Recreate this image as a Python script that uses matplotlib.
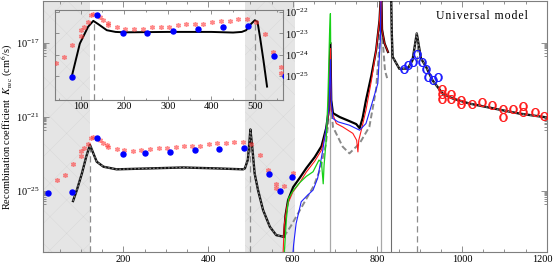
import numpy as np
import matplotlib
matplotlib.use('Agg')
import matplotlib.pyplot as plt
from matplotlib.ticker import MultipleLocator, NullFormatter, FixedLocator
from matplotlib.transforms import ScaledTranslation

plt.rcParams['font.family'] = ['Liberation Serif', 'DejaVu Serif']
plt.rcParams['mathtext.fontset'] = 'stix'
plt.rcParams['hatch.linewidth'] = 0.3

# ---- data (x in nm-like units, values stored as log10 K_rec) ----
# shaded bands
shade = [(10, 120), (487, 605)]

# model curve below 580 (black under grey dashes)
low_x = [81, 90, 102, 112, 121, 129, 137, 153, 184, 263, 341, 420, 483, 487, 494, 498,
         500, 505, 510, 518, 530, 546, 561, 579]
low_lg = [-25.53, -24.94, -24.04, -23.15, -22.5, -22.96, -23.41, -23.68, -23.82, -23.77,
          -23.72, -23.77, -23.82, -23.77, -23.3, -22.25, -21.67, -22.78, -24.04, -24.94,
          -26.02, -26.92, -27.37, -27.46]

# black branch above 579
blk_x = [579, 583, 589, 601, 616, 632, 652, 668, 679, 685, 689, 691, 695, 711, 734, 750,
         758, 765, 773, 786, 797, 805, 808]
blk_lg = [-27.46, -26.29, -25.48, -24.78, -24.30, -23.76, -23.16, -22.57, -21.6, -20.63,
          -17.0, -20.09, -20.79, -21.0, -21.22, -21.38, -21.6, -21.06, -20.09, -18.74,
          -17.39, -15.78, -14.5]
blk2_x = [809.5, 811, 817, 825]
blk2_lg = [-14.5, -16.3, -17.03, -17.49]

# red branch
red_x = [577, 580, 587, 600, 616, 632, 652, 668, 679, 685, 689, 691, 703, 718, 742, 751,
         754, 756, 762, 773, 786, 797, 805, 808]
red_lg = [-28.5, -26.8, -25.75, -25.05, -24.56, -23.97, -23.38, -22.78, -21.7, -20.74,
          -17.3, -20.63, -21.35, -21.53, -21.88, -22.25, -22.88, -22.25, -21.71, -20.63,
          -19.01, -17.39, -15.78, -14.5]

# blue branch
blu_x = [600, 602, 608, 620, 633, 648, 659, 671, 680, 686, 689, 691, 695, 707, 734, 758,
         773, 786, 801, 807, 808.5]
blu_lg = [-28.5, -27.9, -26.74, -25.57, -25.26, -24.94, -24.29, -22.78, -21.43, -20.36,
          -17.9, -20.09, -21.08, -21.26, -21.44, -21.71, -21.35, -20.36, -19.19, -16.85, -14.5]

# green branch
grn_x = [580, 585, 590, 600, 616, 632, 648, 662, 668, 672, 674, 679, 683, 687, 689, 689.6]
grn_lg = [-28.4, -26.5, -25.4, -25.0, -24.55, -24.2, -23.95, -23.32, -23.45, -24.6, -23.6,
          -22.25, -20.09, -16.49, -15.42, -17.03]

# grey dashed branch
gry_x = [579, 595, 610, 630, 650, 665, 678, 684, 688, 691, 695, 718, 734, 758, 781, 797,
         805, 808]
gry_lg = [-27.46, -26.9, -26.3, -25.5, -24.7, -23.8, -22.5, -21.3, -18.5, -20.5, -21.53,
          -22.6, -22.96, -22.42, -21.53, -19.5, -17.03, -15.0]
gry2_x = [810, 814, 818, 823]
gry2_lg = [-15.8, -17.3, -18.5, -18.9]

# model curve above 832
hi_x = [832.5, 834, 836, 852, 872, 883, 893, 903, 915, 930, 954, 978, 1017, 1056, 1095,
        1135, 1200]
hi_lg = [-14.5, -16.5, -17.75, -18.4, -18.38, -17.93, -16.49, -17.84, -18.29, -19.01,
         -19.73, -20.0, -20.27, -20.45, -20.63, -20.81, -21.02]

# inset model curve
ins_x = [79, 98, 117, 129, 140, 160, 180, 200, 300, 400, 450, 470, 480, 489, 500, 506,
         512, 520, 528]
ins_lg = [-25.07, -23.48, -22.69, -22.41, -22.56, -22.85, -22.93, -22.95, -22.93, -22.93,
          -22.96, -22.93, -22.85, -22.6, -22.38, -22.45, -23.2, -24.3, -25.5]

# measured points
star_x = [43, 62, 81, 100, 100, 108, 116, 123, 129, 144, 152, 162, 163, 184, 202, 223, 242,
          263, 284, 303, 324, 343, 362, 381, 402, 422, 443, 462, 482, 502, 523, 542, 561,
          561, 580, 600]
star_lg = [-24.38, -24.1, -23.55, -22.85, -23.1, -22.69, -22.45, -22.14, -22.09, -22.25,
           -22.38, -22.5, -22.61, -22.72, -22.77, -22.81, -22.77, -22.72, -22.69, -22.69,
           -22.61, -22.58, -22.55, -22.58, -22.45, -22.41, -22.41, -22.34, -22.33, -22.45,
           -23.03, -23.86, -24.6, -24.85, -24.72, -24.0]

dot_x = [22, 79, 137, 198, 252, 311, 369, 427, 485, 544, 569, 598]
dot_lg = [-25.12, -25.03, -22.13, -22.98, -22.96, -22.9, -22.77, -22.7, -22.67, -24.05,
          -25.0, -24.22]

bcirc_x = [864, 873, 883, 894, 906, 916, 920, 932, 942]
bcirc_lg = [-18.42, -18.2, -18.04, -17.59, -18.04, -18.42, -18.85, -19.01, -18.85]

rcirc_x = [953, 953, 953, 974, 974, 997, 997, 1023, 1047, 1070, 1097, 1097, 1121, 1145,
           1145, 1172, 1194]
rcirc_lg = [-19.46, -19.78, -20.03, -19.73, -20.0, -20.09, -20.27, -20.27, -20.18, -20.36,
            -20.54, -20.99, -20.54, -20.41, -20.72, -20.72, -20.95]


def K(v):
    return 10.0 ** np.asarray(v)


ybot, ytop = 10 ** -28.28, 10 ** -14.72
spine_c = '#7f7f7f'

fig = plt.figure(figsize=(5.56, 2.66), dpi=100)
ax = fig.add_axes([0.0773, 0.0526, 0.906, 0.945])
ax.set_yscale('log')
ax.set_xlim(10, 1200)
ax.set_ylim(ybot, ytop)

for a, b in shade:
    ax.axvspan(a, b, facecolor='#e5e5e5', edgecolor='#d6d6d6', hatch='x', lw=0, zorder=0)

# reference lines
ax.vlines([120], ybot, K(-22.5), colors='#8c8c8c', lw=0.9, linestyles=(0, (5, 3)), zorder=1)
ax.vlines([499], ybot, K(-21.67), colors='#8c8c8c', lw=0.9, linestyles=(0, (5, 3)), zorder=1)
ax.vlines([893], ybot, K(-16.49), colors='#8c8c8c', lw=0.9, linestyles=(0, (5, 3)), zorder=1)
ax.vlines([688], ybot, K(-20.0), colors='#a8a8a8', lw=0.9, zorder=1)
ax.vlines([809], ybot, ytop, colors='#a8a8a8', lw=0.9, zorder=1)
ax.vlines([832], ybot, ytop, colors='#6e6e6e', lw=0.8, zorder=1)

# curves
dash = (0, (1.5, 1.5))
ax.plot(low_x, K(low_lg), color='#111111', lw=1.7, zorder=3)
ax.plot(low_x, K(low_lg), color='#7a7a7a', lw=0.9, ls=dash, zorder=4)
ax.plot(gry_x, K(gry_lg), color='#8a8a8a', lw=1.4, ls=(0, (3, 1.5)), zorder=3)
ax.plot(gry2_x, K(gry2_lg), color='#8a8a8a', lw=1.4, ls=(0, (3, 1.5)), zorder=3)
ax.plot(blk_x, K(blk_lg), color='black', lw=1.6, zorder=4)
ax.plot(blk2_x, K(blk2_lg), color='black', lw=1.6, zorder=4)
ax.plot(red_x, K(red_lg), color='#ff1a1a', lw=0.8, zorder=5)
ax.plot(blk2_x, K(blk2_lg), color='#cc1010', lw=0.8, zorder=5)
ax.plot(blu_x, K(blu_lg), color='#2020ff', lw=0.8, zorder=5)
ax.plot(grn_x, K(grn_lg), color='#18d018', lw=0.9, zorder=6)
ax.plot(hi_x, K(hi_lg), color='#111111', lw=1.7, zorder=3)
ax.plot(hi_x, K(hi_lg), color='#7a7a7a', lw=0.9, ls=dash, zorder=4)

# points
ax.plot(star_x, K(star_lg), ls='none', marker=(6, 2, 0), ms=3.6, mew=1.0,
        color='#ff3b3b', alpha=0.6, zorder=6)
ax.plot(dot_x, K(dot_lg), ls='none', marker='o', ms=3.6, color='#0000ff', zorder=7)
ax.plot(bcirc_x, K(bcirc_lg), ls='none', marker=r'$\mathrm{O}$', ms=6, color='#1a1aff',
        mew=0.4, zorder=7)
ax.plot(rcirc_x, K(rcirc_lg), ls='none', marker=r'$\mathrm{O}$', ms=6, color='#ff1a1a',
        mew=0.4, zorder=7)

# axes styling
ax.xaxis.set_major_locator(FixedLocator([200, 400, 600, 800, 1000, 1200]))
ax.xaxis.set_minor_locator(MultipleLocator(50))
ax.yaxis.set_major_locator(FixedLocator([1e-25, 1e-21, 1e-17]))
minors = [k * 10.0 ** e for e in (-26, -22, -18) for k in range(2, 10)]
ax.yaxis.set_minor_locator(FixedLocator(minors))
ax.yaxis.set_minor_formatter(NullFormatter())
ax.tick_params(which='both', direction='in', top=True, right=True, colors=spine_c,
               labelcolor='black', labelsize=7.5, width=0.6)
ax.tick_params(which='major', length=4, pad=2.5)
ax.tick_params(which='minor', length=2)
for s in ax.spines.values():
    s.set_color(spine_c)
    s.set_linewidth(0.8)
ax.set_ylabel(r'Recombination coefficient  $K_{\rm rec}$ (cm$^6$/s)', fontsize=7.5)
ax.yaxis.set_label_coords(-0.056, 0.5)

fig.canvas.draw()
last = ax.get_xticklabels()[-1]
last.set_transform(last.get_transform() + ScaledTranslation(-4 / 100, 0, fig.dpi_scale_trans))

fig.text(482 / 556, 1 - 16 / 266, '\u200a'.join('Universal model'), ha='center',
         va='center', fontsize=8.5)

# inset
ins = fig.add_axes([0.0989, 0.6241, 0.4096, 0.3383])
ins.set_facecolor('none')
ins.set_yscale('log')
ins.set_xlim(41, 564)
ins.set_ylim(10 ** -26.13, 10 ** -21.9)
ins.vlines([130], 10 ** -26.13, K(-22.41), colors='#8c8c8c', lw=0.9, linestyles=(0, (5, 3)))
ins.vlines([500], 10 ** -26.13, K(-22.38), colors='#8c8c8c', lw=0.9, linestyles=(0, (5, 3)))
ins.plot(ins_x, K(ins_lg), color='black', lw=1.4, zorder=3)
ins.plot(star_x, K(star_lg), ls='none', marker=(6, 2, 0), ms=3.6, mew=1.0,
         color='#ff3b3b', alpha=0.6, zorder=4)
ins.plot(dot_x, K(dot_lg), ls='none', marker='o', ms=3.6, color='#0000ff', zorder=5)
ins.xaxis.set_major_locator(FixedLocator([100, 200, 300, 400, 500]))
ins.xaxis.set_minor_locator(MultipleLocator(50))
ins.yaxis.set_major_locator(FixedLocator([1e-25, 1e-24, 1e-23, 1e-22]))
ins.yaxis.set_minor_formatter(NullFormatter())
ins.yaxis.set_minor_locator(FixedLocator([]))
ins.tick_params(which='both', direction='in', top=True, right=True, left=True,
                labelleft=False, labelright=True, colors=spine_c, labelcolor='black',
                labelsize=7.5, width=0.6)
ins.tick_params(which='major', length=3, pad=1.5)
ins.tick_params(which='minor', length=1.5)
for s in ins.spines.values():
    s.set_color(spine_c)
    s.set_linewidth(0.8)

fig.savefig('out.png', dpi=100)
